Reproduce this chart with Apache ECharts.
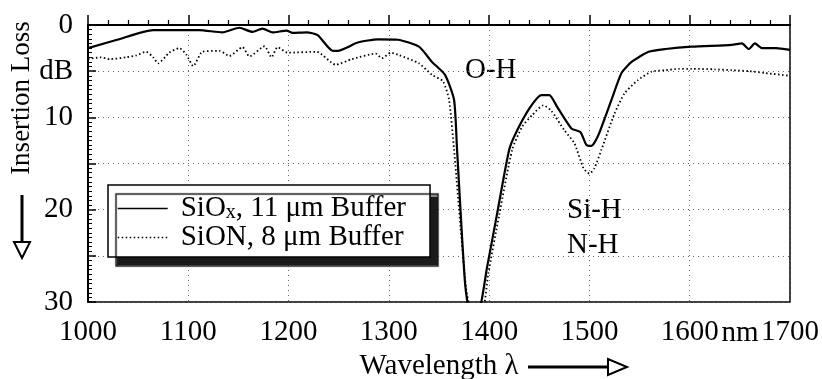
<!DOCTYPE html>
<html>
<head>
<meta charset="utf-8">
<script src="https://cdn.jsdelivr.net/npm/echarts@6/dist/echarts.min.js"></script>
<style>
  html, body { margin: 0; padding: 0; background: #fff; }
  #chart { width: 822px; height: 379px; }
</style>
</head>
<body>
<div id="chart"></div>
<script>
// SiOx, 11 um buffer (solid)
const sioxNm = [1000, 1029, 1065, 1111, 1134, 1151, 1164, 1174, 1184, 1198, 1204, 1218, 1229, 1244, 1249, 1269, 1289, 1309, 1330, 1343, 1356, 1365, 1368, 1376, 1381, 1389, 1398, 1408, 1420, 1428, 1441, 1452, 1460, 1468, 1482, 1491, 1497, 1502, 1509, 1522, 1532, 1542, 1559, 1576, 1602, 1642, 1652, 1659, 1665, 1672, 1686, 1700];
const sioxDb = [2.5, 1.6, 0.55, 0.55, 0.8, 0.3, 0.75, 0.4, 0.8, 0.6, 0.85, 0.8, 1.1, 2.8, 2.8, 1.9, 1.55, 1.6, 2.35, 4.0, 5.4, 8.1, 13.5, 28, 31, 31, 26.2, 20.4, 13.5, 11.4, 8.9, 7.6, 7.6, 8.9, 11.2, 11.6, 13.0, 13.1, 11.9, 8.1, 5.2, 4.0, 2.9, 2.6, 2.35, 2.15, 2.0, 2.6, 2.0, 2.5, 2.5, 2.7];

// SiON, 8 um buffer (dotted)
const sionNm = [1000, 1012, 1022, 1038, 1048, 1058, 1065, 1070, 1081, 1091, 1098, 1105, 1114, 1131, 1141, 1154, 1161, 1176, 1183, 1189, 1199, 1228, 1247, 1263, 1287, 1293, 1302, 1310, 1330, 1343, 1354, 1360, 1365, 1377, 1383, 1393, 1399, 1410, 1423, 1433, 1443, 1454, 1462, 1475, 1485, 1494, 1500, 1505, 1512, 1525, 1535, 1548, 1562, 1576, 1589, 1602, 1625, 1642, 1659, 1675, 1700];
const sionDb = [3.7, 3.5, 3.7, 3.5, 3.3, 2.9, 3.5, 4.15, 3.0, 2.5, 3.2, 4.45, 2.9, 2.8, 3.35, 2.4, 3.4, 2.3, 3.5, 2.4, 3.0, 2.9, 4.3, 3.7, 3.1, 3.6, 3.0, 3.25, 4.15, 5.4, 6.1, 8.1, 13.5, 28.5, 31, 31, 27, 20.6, 13.5, 11.0, 9.75, 8.7, 9.3, 11.4, 12.8, 15.5, 16.1, 15.5, 13.5, 9.6, 7.4, 6.0, 5.05, 4.9, 4.75, 4.75, 4.8, 4.9, 5.0, 5.2, 5.5];

const xTickLabels = { 1000: '1000', 1100: '1100', 1200: '1200', 1300: '1300', 1400: '1400', 1500: '1500', 1600: '1600', 1700: '1700' };
const yTickLabels = { 0: '0', 5: 'dB', 10: '10', 15: '', 20: '20', 25: '', 30: '30' };

const pairs = (xs, ys) => xs.map((x, i) => [x, ys[i]]);
const serif = 'Liberation Serif';
const font = '29px "Liberation Serif"';

const chart = echarts.init(document.getElementById('chart'), null, { renderer: 'canvas' });

chart.setOption({
  animation: false,
  backgroundColor: '#fff',
  textStyle: { fontFamily: serif, color: '#000' },
  grid: {
    left: 88, right: 30, top: 25, bottom: 77,
    show: true, borderColor: '#000', borderWidth: 1.5, backgroundColor: 'transparent'
  },
  xAxis: {
    type: 'value', min: 1000, max: 1700, interval: 100,
    axisLine: { lineStyle: { color: '#000', width: 2 } },
    axisTick: { inside: true, length: 10, lineStyle: { color: '#000', width: 1.5 } },
    minorTick: { show: true, splitNumber: 5, length: 5, lineStyle: { color: '#000', width: 1.2 } },
    splitLine: { show: true, lineStyle: { color: '#666', type: [1, 4], width: 1 } },
    axisLabel: {
      color: '#000', fontFamily: serif, fontSize: 29, margin: 16,
      formatter: v => xTickLabels[v] || ''
    }
  },
  yAxis: {
    type: 'value', inverse: true, min: 0, max: 30, interval: 5,
    axisLine: { show: true, lineStyle: { color: '#000', width: 2 } },
    axisTick: { show: true, inside: true, length: 8, lineStyle: { color: '#000', width: 1.5 } },
    minorTick: { show: true, splitNumber: 10, length: 4, lineStyle: { color: '#000', width: 1 } },
    splitLine: { show: true, lineStyle: { color: '#666', type: [1, 4], width: 1 } },
    axisLabel: {
      color: '#000', fontFamily: serif, fontSize: 29, margin: 15,
      formatter: v => yTickLabels[v] !== undefined ? yTickLabels[v] : ''
    }
  },
  legend: {
    left: 108, top: 185, orient: 'vertical',
    backgroundColor: '#fff', borderColor: '#000', borderWidth: 1.5,
    shadowColor: '#1a1a1a', shadowBlur: 1, shadowOffsetX: 8, shadowOffsetY: 9,
    padding: [9, 24, 5, 9], itemGap: 0, itemWidth: 50, itemHeight: 14,
    selectedMode: false,
    itemStyle: { opacity: 0 },
    lineStyle: { width: 1.4 },
    data: ['SiOx', 'SiON'],
    formatter: name => name === 'SiOx'
      ? '{sp|}{a|SiO}{sub|x}{a|, 11 μm Buffer}'
      : '{sp|}{a|SiON, 8 μm Buffer}',
    textStyle: {
      fontFamily: serif, color: '#000', fontSize: 29, lineHeight: 29,
      rich: {
        sp: { width: 8 },
        a: { fontFamily: serif, fontSize: 29, color: '#000', lineHeight: 29 },
        sub: { fontFamily: serif, fontSize: 20, color: '#000', lineHeight: 29, verticalAlign: 'bottom', padding: [9, 0, 0, 0] }
      }
    }
  },
  graphic: [
    { type: 'text', x: 22, y: 98, rotation: Math.PI / 2, style: { text: 'Insertion Loss', font: '27px "Liberation Serif"', fill: '#000', align: 'center', verticalAlign: 'middle' } },
    { type: 'line', shape: { x1: 22, y1: 195, x2: 22, y2: 242 }, style: { stroke: '#000', lineWidth: 3 } },
    { type: 'polygon', shape: { points: [[14, 242], [30, 242], [22, 258]] }, style: { fill: '#fff', stroke: '#000', lineWidth: 2 } },
    { type: 'text', x: 439, y: 366, style: { text: 'Wavelength λ', font: font, fill: '#000', align: 'center', verticalAlign: 'middle' } },
    { type: 'line', shape: { x1: 528, y1: 367, x2: 609, y2: 367 }, style: { stroke: '#000', lineWidth: 3 } },
    { type: 'polygon', shape: { points: [[608, 359], [608, 375], [627, 367]] }, style: { fill: '#fff', stroke: '#000', lineWidth: 2 } },
    { type: 'text', x: 740, y: 333, style: { text: 'nm', font: font, fill: '#000', align: 'center', verticalAlign: 'middle' } },
    { type: 'text', x: 465, y: 70, style: { text: 'O-H', font: font, fill: '#000', align: 'left', verticalAlign: 'middle' } },
    { type: 'text', x: 567, y: 210, style: { text: 'Si-H', font: font, fill: '#000', align: 'left', verticalAlign: 'middle' } },
    { type: 'text', x: 567, y: 245, style: { text: 'N-H', font: font, fill: '#000', align: 'left', verticalAlign: 'middle' } }
  ],
  series: [
    {
      name: 'SiOx', type: 'line', data: pairs(sioxNm, sioxDb), symbol: 'none', smooth: 0.2,
      lineStyle: { color: '#000', width: 2.2 }, itemStyle: { color: '#000' }, clip: true
    },
    {
      name: 'SiON', type: 'line', data: pairs(sionNm, sionDb), symbol: 'none', smooth: 0.2,
      lineStyle: { color: '#000', width: 1.8, type: [1.5, 2.5] }, itemStyle: { color: '#000' }, clip: true
    }
  ]
});
</script>
</body>
</html>
